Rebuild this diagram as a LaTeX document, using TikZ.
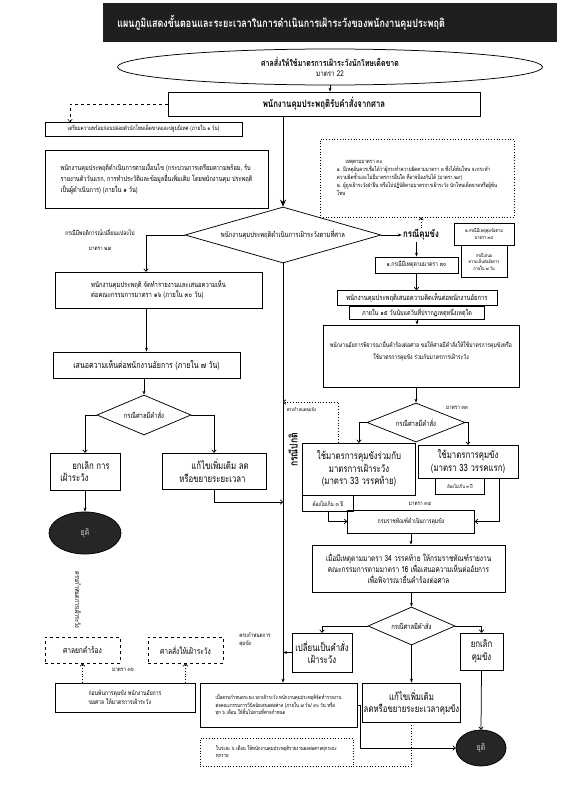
\documentclass[tikz,border=0pt]{standalone}
\usepackage{fontspec}
\setmainfont{Loma}[Script=Thai,FakeStretch=0.78]
\usetikzlibrary{shapes.geometric,arrows.meta,calc}

\begin{document}
\begin{tikzpicture}[x=1pt,y=-1pt,line width=0.75pt,
  every node/.style={inner sep=1pt},
  box/.style={draw,align=center,inner sep=1.5pt,font=\fontsize{7.2}{9}\selectfont},
  bigbox/.style={box,font=\fontsize{10}{12.5}\selectfont},
  dbox/.style={box,dotted},
  dshbox/.style={box,dashed},
  dia/.style={draw,diamond,inner sep=0pt,font=\fontsize{7.5}{9}\selectfont},
  stop/.style={ellipse,draw,fill=black!85,text=gray!45,font=\fontsize{9}{10}\selectfont},
  lbl/.style={inner sep=0.5pt,font=\fontsize{6}{7.5}\selectfont},
  arr/.style={-{Stealth[length=4pt,width=3pt]}},
  bigarr/.style={-{Stealth[length=7pt,width=6pt]}},
  oarr/.style={-{To[length=3pt,width=5pt]}}]
\useasboundingbox (0,0) rectangle (561,800);
% header
\fill[black!88] (103,3) rectangle (557,42);
\node[anchor=west,text=white,font=\bfseries\fontsize{11.5}{13}\selectfont] (title) at (116,23)
  {แผนภูมิแสดงขั้นตอนและระยะเวลาในการดำเนินการเฝ้าระวังของพนักงานคุมประพฤติ};

% top of chart
\node[box,ellipse,minimum width=425,minimum height=36,inner sep=0pt,font=\fontsize{8}{10}\selectfont] (court) at (330,67)
  {{\bfseries\fontsize{9}{10}\selectfont ศาลสั่งให้ใช้มาตรการเฝ้าระวังนักโทษเด็ดขาด}\\มาตรา 22};
\node[box,minimum width=312,minimum height=24,font=\bfseries\fontsize{10}{11}\selectfont] (recv) at (324,104)
  {พนักงานคุมประพฤติรับคำสั่งจากศาล};
\draw[arr] (court.south) -- (court.south |- recv.north);

\node[box,minimum width=197,minimum height=14,font=\fontsize{6}{7}\selectfont] (prep) at (143.5,129)
  {เตรียมความพร้อมก่อนปล่อยตัวนักโทษเด็ดขาดและปฐมนิเทศ (ภายใน ๑ วัน)};
\coordinate (prepin) at (70,122);
\draw[dashed,line width=0.5pt,oarr] (recv.west) -| (prepin);
\node[box,align=left,minimum width=223,minimum height=58,font=\fontsize{7.2}{11}\selectfont] (cond) at (156.5,179)
  {พนักงานคุมประพฤติดำเนินการตามเงื่อนไข (กระบวนการเตรียมความพร้อม, รับ\\
   รายงานตัววันแรก, การทำประวัติและข้อมูลอื่นเพิ่มเติม โดยพนักงานคุม ประพฤติ\\
   เป็นผู้ดำเนินการ) (ภายใน ๑ วัน)};
\node[dbox,align=left,minimum width=194,minimum height=78,font=\fontsize{5.8}{8}\selectfont] (notes) at (417,178)
  {\hspace{1.5em}เหตุตามมาตรา ๓๐\\
   ๑. มีเหตุอันควรเชื่อได้ว่าผู้กระทำความผิดตามมาตรา ๓ ซึ่งได้พ้นโทษ จะกระทำ\\
   ความผิดซ้ำและไม่มีมาตรการอื่นใด ที่อาจป้องกันได้ (มาตรา ๒๙)\\
   ๒. ผู้ถูกเฝ้าระวังฝ่าฝืน หรือไม่ปฏิบัติตามมาตรการเฝ้าระวัง นักโทษเด็ดขาดหรือผู้พ้น\\
   โทษ};

% watch decision
\node[dia,aspect=3.5,minimum width=196,minimum height=56] (watch) at (283,235)
  {พนักงานคุมประพฤติดำเนินการเฝ้าระวังตามที่ศาล};
\draw[bigarr] (recv.south -| watch.north) -- (watch.north);

% left branch
\node[lbl,font=\fontsize{6.5}{8}\selectfont] (chg) at (100,233) {กรณีมีพฤติการณ์เปลี่ยนแปลงไป};
\node[lbl] (s27) at (100,249) {มาตรา ๒๗};
\node[box,align=left,minimum width=207,minimum height=36,font=\fontsize{7.5}{10}\selectfont] (rep16) at (158.5,290)
  {พนักงานคุมประพฤติ จัดทำรายงานและเสนอความเห็น\\ต่อคณะกรรมการมาตรา ๑๖ (ภายใน ๓๐ วัน)};
\coordinate (chgc) at (146,235);
\draw[oarr] (watch.west) -- (chgc) -- (chgc |- rep16.north);
\node[box,minimum width=187,minimum height=26,font=\fontsize{9}{10}\selectfont] (opin) at (146.5,365)
  {เสนอความเห็นต่อพนักงานอัยการ (ภายใน ๗ วัน)};
\draw[arr] (rep16.south -| opin.north) -- (opin.north);
\node[dia,aspect=2.3,minimum width=94,minimum height=40] (ord1) at (144,415) {กรณีศาลมีคำสั่ง};
\draw[arr] (opin.south -| ord1.north) -- (ord1.north);
\node[bigbox,align=left,minimum width=70,minimum height=37] (cancel) at (85,471.5)
  {\hspace{1.2em}ยกเลิก การ\\เฝ้าระวัง};
\node[bigbox,align=left,minimum width=104,minimum height=36] (amend) at (214,471)
  {\hspace{1.2em}แก้ไขเพิ่มเติม ลด\\หรือขยายระยะเวลา};
\draw[oarr] (ord1.west) -| (cancel.north);
\draw[oarr] (ord1.east) -| (amend.north);
\node[stop,minimum width=72,minimum height=42] (end1) at (85,533) {ยุติ};
\draw[arr] (cancel) -- (end1);

% right branch
\node[font=\bfseries\fontsize{10}{11}\selectfont] (detain) at (421,235) {กรณีคุมขัง};
\draw[arr] (watch.east) -- (detain.west);
\draw[dotted,oarr] (detain.north) -- (detain.north |- notes.south);
\node[box,minimum width=60,minimum height=22,font=\fontsize{5}{6.5}\selectfont] (sb1) at (484,234)
  {๒.กรณีมีเหตุคุมขังตาม\\มาตรา ๓๔};
\node[box,anchor=north,minimum width=46,minimum height=32,font=\fontsize{4.8}{6.3}\selectfont] (sb2) at (sb1.south)
  {กรณีเสนอ\\ความเห็นต่ออัยการ\\ภายใน ๗ วัน};
\node[box,minimum width=83,minimum height=16,font=\fontsize{6.5}{7.5}\selectfont] (case30) at (416.5,265)
  {๑.กรณีมีเหตุตามมาตรา ๓๐};
\draw[arr] (detain.south -| case30.north) -- (case30.north);
\node[box,minimum width=160,minimum height=15,font=\fontsize{7.5}{8.5}\selectfont] (pop) at (417,298)
  {พนักงานคุมประพฤติเสนอความคิดเห็นต่อพนักงานอัยการ};
\draw[oarr] (case30.south) -- (case30.south |- pop.north);
\node[box,anchor=north,minimum width=135,minimum height=13,font=\fontsize{7}{8}\selectfont] (in15) at (pop.south)
  {ภายใน ๑๕ วันนับแต่วันที่ปรากฏเหตุหนึ่งเหตุใด};
\node[box,minimum width=196,minimum height=62,font=\fontsize{6.5}{12}\selectfont] (pros) at (421,356)
  {พนักงานอัยการพิจารณายื่นคำร้องต่อศาล ขอให้ศาลมีคำสั่งให้ใช้มาตรการคุมขังหรือ\\
   ใช้มาตรการคุมขัง ร่วมกับมาตรการเฝ้าระวัง\\ \mbox{}};
\draw[arr] (in15.south) -- (in15.south |- pros.north);
\node[dia,aspect=2.6,minimum width=98,minimum height=39] (ord2) at (416,422.5) {กรณีศาลมีคำสั่ง};
\draw[arr] (pros.south -| ord2.north) -- (ord2.north);
\node[lbl] (s33) at (457,408) {มาตรา ๓๓};
\node[bigbox,minimum width=113,minimum height=52] (combo) at (359,469)
  {ใช้มาตรการคุมขังร่วมกับ\\มาตรการเฝ้าระวัง\\(มาตรา 33 วรรคท้าย)};
\node[bigbox,minimum width=100,minimum height=33] (jail) at (468,461.5)
  {ใช้มาตรการคุมขัง\\(มาตรา 33 วรรคแรก)};
\draw[oarr] (ord2.west) -| (combo.north);
\draw[oarr] (ord2.east) -| (jail.north);
\node[box,anchor=north west,minimum width=51,minimum height=16,font=\fontsize{6}{7}\selectfont] (lim1) at (combo.south west)
  {ต้องไม่เกิน ๓ ปี};
\node[box,anchor=north,minimum width=49,minimum height=16,font=\fontsize{5}{6}\selectfont] (lim2) at ($(jail.south)+(-8,0)$)
  {ต้องไม่เกิน ๓ ปี};
\coordinate (endjup) at ($(combo.north west)+(36,0)$);
\draw[dotted,oarr] (endjup) |- (watch.south |- 0,402);
\node[lbl,anchor=west,font=\fontsize{5}{6}\selectfont] (endj) at (286,410) {ครบกำหนดคุมขัง};
\node[lbl] (s34) at (420,504) {มาตรา ๓๔};
\node[box,minimum width=127,minimum height=23,font=\fontsize{6.5}{8}\selectfont] (dept) at (411,521.5) {กรมราชทัณฑ์ดำเนินการคุมขัง};
\draw[oarr] (lim1.south) |- (dept.west);
\draw[oarr] ($(jail.south east)+(-19,0)$) |- (dept.east);
\node[box,minimum width=193,minimum height=47,font=\fontsize{8.3}{11}\selectfont] (report) at (408.5,568.5)
  {เมื่อมีเหตุตามมาตรา 34 วรรคท้าย ให้กรมราชทัณฑ์รายงาน\\
   คณะกรรมการตามมาตรา 16 เพื่อเสนอความเห็นต่ออัยการ\\
   เพื่อพิจารณายื่นคำร้องต่อศาล};
\draw[arr] (dept.south) -- (dept.south |- report.north);
\node[dia,aspect=2.3,minimum width=87,minimum height=38] (ord3) at (411.5,626) {กรณีศาลมีคำสั่ง};
\draw[arr] (report.south -| ord3.north) -- (ord3.north);
\node[bigbox,minimum width=60,minimum height=39] (towatch) at (322,652.5) {เปลี่ยนเป็นคำสั่ง\\เฝ้าระวัง};
\node[bigbox,minimum width=43,minimum height=37] (cancel2) at (481.5,651.5) {ยกเลิก\\คุมขัง};
\node[bigbox,minimum width=97,minimum height=39] (amend2) at (411.5,702.5) {แก้ไขเพิ่มเติม\\ลดหรือขยายระยะเวลาคุมขัง};
\draw[oarr] (ord3.west) -| (towatch.north);
\draw[oarr] (ord3.east) -| (cancel2.north);
\draw[arr] (ord3.south) -- (amend2.north);
\node[stop,minimum width=50,minimum height=36] (end2) at (481,748) {ยุติ};
\draw[oarr] (cancel2.south) -- (end2.north);

% normal case
\node[box,align=left,minimum width=157,minimum height=44,font=\fontsize{5.5}{7.5}\selectfont] (final) at (278.5,705)
  {เมื่อครบกำหนดระยะเวลาเฝ้าระวัง พนักงานคุมประพฤติจัดทำรายงาน\\
   ต่อคณะกรรมการวินิจฉัยเสนอต่อศาล (ภายใน ๗ วัน/ ๙๐ วัน หรือ\\
   ทุก ๖ เดือน ให้สิ้นไปตามที่ศาลกำหนด};
\draw[arr] (watch.south) -- (watch.south |- final.north);
\node[rotate=90,font=\bfseries\fontsize{11}{12}\selectfont] (normal) at (293,450) {กรณีปกติ};
\coordinate (amendj) at (283,502);
\draw[oarr] (amend.south) |- (amendj);
\draw[arr] (towatch.west) -- (towatch.west -| watch.south);
\draw[oarr] (final.east) -- ++(3,0) |- (end2.west);
\node[dbox,align=left,minimum width=153,minimum height=28,font=\fontsize{5.5}{7}\selectfont] (semi) at (276.5,752)
  {ในระยะ ๖ เดือน ให้พนักงานคุมประพฤติรายงานผลต่อศาลทุกระยะ\\ทุกราย};
\draw[dotted] (amend2.south) |- (semi.south east);

% left bottom
\node[rotate=-90,font=\fontsize{7}{8}\selectfont] (endw) at (78,600) {ครบกำหนดการเฝ้าระวัง};
\node[dshbox,minimum width=75,minimum height=26,font=\fontsize{8.5}{9}\selectfont] (rej) at (82.5,650) {ศาลยกคำร้อง};
\node[dshbox,minimum width=75,minimum height=26,font=\fontsize{8.5}{9}\selectfont] (sw) at (185.5,650) {ศาลสั่งให้เฝ้าระวัง};
\node[lbl,align=left] (endc) at (255,640) {ครบกำหนดการ\\คุมขัง};
\node[lbl] (s36) at (123,670) {มาตรา ๓๖};
\node[box,align=left,minimum width=140,minimum height=29,font=\fontsize{6.5}{8.5}\selectfont] (before) at (125,697.5)
  {ก่อนพ้นการคุมขัง พนักงานอัยการ\\ขอศาล ให้มาตรการเฝ้าระวัง};
\draw[dotted,oarr] (rej.south |- before.north) -- (rej.south);
\draw[dotted,oarr] (sw.south |- before.north) -- (sw.south);
\end{tikzpicture}
\end{document}
